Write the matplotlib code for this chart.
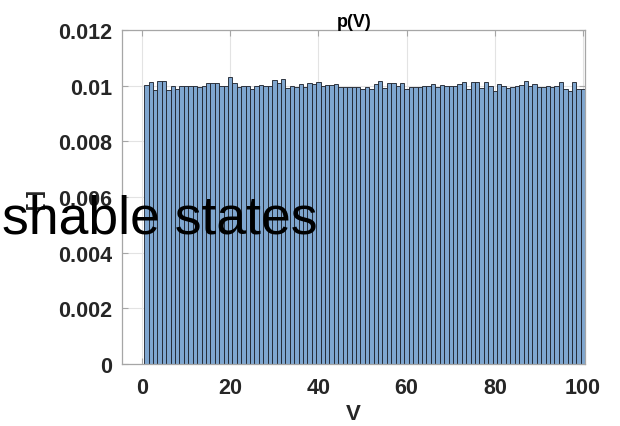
import matplotlib
matplotlib.use("Agg")
import matplotlib.pyplot as plt
import numpy as np

plt.rcParams['font.family'] = ['Liberation Sans', 'DejaVu Sans']

# Probability of each of the 100 integer values V = 1..100
V_values = list(range(1, 101))
p_V = [
    0.01002, 0.01013, 0.00984, 0.01016, 0.01016, 0.00986, 0.01001, 0.00988, 0.00999, 0.00999,
    0.01001, 0.00999, 0.00995, 0.01001, 0.01010, 0.01010, 0.01010, 0.00999, 0.00999, 0.01030,
    0.01011, 0.00996, 0.00999, 0.00999, 0.00989, 0.01001, 0.01004, 0.01001, 0.01001, 0.01020,
    0.01010, 0.01023, 0.00992, 0.01001, 0.00994, 0.01006, 0.00994, 0.01011, 0.01008, 0.01013,
    0.00999, 0.01004, 0.01004, 0.01006, 0.00994, 0.00994, 0.00996, 0.00995, 0.00995, 0.00987,
    0.00994, 0.00989, 0.01006, 0.01018, 0.00992, 0.01011, 0.01011, 0.00999, 0.01011, 0.00989,
    0.00994, 0.00994, 0.00994, 0.01001, 0.01001, 0.01006, 0.00994, 0.01004, 0.01001, 0.01001,
    0.01001, 0.01008, 0.01013, 0.00989, 0.01013, 0.01013, 0.00992, 0.01013, 0.00999, 0.00982,
    0.01006, 0.01001, 0.00992, 0.00996, 0.01001, 0.01004, 0.01019, 0.01001, 0.01008, 0.00994,
    0.00994, 0.00999, 0.00996, 0.01001, 0.01013, 0.00989, 0.00982, 0.01013, 0.00989, 0.00987,
]
x_ticks = [0, 20, 40, 60, 80, 100]
y_ticks = [0, 0.002, 0.004, 0.006, 0.008, 0.01, 0.012]
y_tick_labels = ['0', '0.002', '0.004', '0.006', '0.008', '0.01', '0.012']

fig = plt.figure(figsize=(6.2, 4.27), dpi=100)
ax = fig.add_axes([0.197, 0.145, 0.747, 0.782])

label_color = '#262626'
frame_color = '#a6a6a6'

ax.bar(V_values, p_V, width=1.0, align='center',
       facecolor='#7fa6cf', edgecolor=(0.12, 0.14, 0.18, 0.9),
       linewidth=0.7, zorder=2)

ax.set_xlim(-4.5, 100.5)
ax.set_ylim(0, 0.012)
ax.set_xticks(x_ticks)
ax.set_yticks(y_ticks)
ax.set_yticklabels(y_tick_labels)

ax.grid(True, color='#e3e3e3', linewidth=0.8, zorder=0)
ax.set_axisbelow(True)
for s in ax.spines.values():
    s.set_color(frame_color)
    s.set_linewidth(0.9)

ax.tick_params(direction='in', length=4, width=0.8, color=frame_color,
               labelcolor=label_color, labelsize=15.5, top=True, right=True)
ax.tick_params(axis='y', pad=7)
ax.tick_params(axis='x', pad=9)
for lbl in ax.get_xticklabels() + ax.get_yticklabels():
    lbl.set_fontweight('bold')

ax.set_title('p(V)', fontsize=13, fontweight='bold', color='#000000', pad=3)
ax.set_xlabel('V', fontsize=16, fontweight='bold', color=label_color, labelpad=4)
ax.set_ylabel('[-]', fontsize=15, fontweight='bold', color=label_color, labelpad=10)

fig.text(2 / 620, 1 - 234 / 427, 'shable states', fontsize=38.5, color='black',
         ha='left', va='baseline')

fig.savefig('out.png', dpi=100)
